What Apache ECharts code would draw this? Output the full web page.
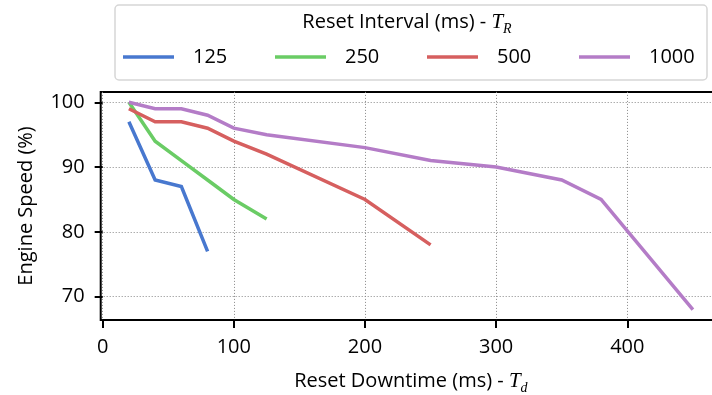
<!DOCTYPE html>
<html><head><meta charset="utf-8">
<script src="https://cdn.jsdelivr.net/npm/echarts@6/dist/echarts.min.js"></script>
<style>html,body{margin:0;padding:0;background:#fff}#c{width:712px;height:395px}</style>
</head><body><div id="c"></div>
<script>
const seriesNames = ['125', '250', '500', '1000'];
const x125 = [20, 40, 60, 80];
const y125 = [97, 88, 87, 77];
const x250 = [20, 40, 60, 80, 100, 125];
const y250 = [100, 94, 91, 88, 85, 82];
const x500 = [20, 40, 60, 80, 100, 125, 200, 250];
const y500 = [99, 97, 97, 96, 94, 92, 85, 78];
const x1000 = [20, 40, 60, 80, 100, 125, 200, 250, 300, 350, 380, 450];
const y1000 = [100, 99, 99, 98, 96, 95, 93, 91, 90, 88, 85, 68];
const xTicks = [0, 100, 200, 300, 400];
const yTicks = [70, 80, 90, 100];
const colors = ['#4878CF', '#6ACC65', '#D65F5F', '#B47CC7'];

const FONT = 'Open Sans';
const allX = [x125, x250, x500, x1000];
const allY = [y125, y250, y500, y1000];
const pair = (xs, ys) => xs.map((v, i) => [v, ys[i]]);

const legendLefts = [123, 275, 427, 579];
const legends = seriesNames.map((n, i) => ({
  data: [n], left: legendLefts[i], top: 45, padding: 0,
  icon: 'rect', itemWidth: 51, itemHeight: 3.5,
  textStyle: { fontFamily: FONT, fontSize: 20, color: '#000', padding: [0, 0, 0, 14], lineHeight: 24 }
}));

const serif = 'Liberation Serif';
const chart = echarts.init(document.getElementById('c'));
chart.setOption({
  animation: false,
  color: colors,
  title: {
    text: 'Reset Interval (ms) - {i|T}{s|R}',
    left: 407, top: 8, padding: 0, textAlign: 'center',
    textStyle: {
      fontFamily: FONT, fontSize: 20, fontWeight: 'normal', color: '#000', lineHeight: 28,
      rich: {
        i: { fontFamily: serif, fontStyle: 'italic', fontSize: 21, color: '#000', lineHeight: 28 },
        s: { fontFamily: serif, fontStyle: 'italic', fontSize: 14, color: '#000', verticalAlign: 'bottom', lineHeight: 16 }
      }
    }
  },
  legend: legends,
  graphic: [{
    type: 'rect', z: 0,
    shape: { x: 115, y: 5, width: 592, height: 75, r: 4 },
    style: { fill: '#fff', stroke: '#d6d6d6', lineWidth: 1.5 }
  }],
  grid: {
    left: 100.7, top: 91.9, width: 620.4, height: 228.1,
    outerBoundsMode: 'none', containLabel: false,
    show: true, borderColor: '#000', borderWidth: 2, backgroundColor: 'transparent'
  },
  xAxis: {
    type: 'value', min: -1.5, max: 471.5,
    name: 'Reset Downtime (ms) - {i|T}{s|d}',
    nameLocation: 'middle', nameGap: 47,
    nameTextStyle: {
      fontFamily: FONT, fontSize: 20, color: '#000', lineHeight: 28,
      rich: {
        i: { fontFamily: serif, fontStyle: 'italic', fontSize: 21, color: '#000', lineHeight: 28 },
        s: { fontFamily: serif, fontStyle: 'italic', fontSize: 14, color: '#000', verticalAlign: 'bottom', lineHeight: 16 }
      }
    },
    axisLine: { show: false },
    axisTick: { show: true, length: 8, lineStyle: { color: '#000', width: 2 }, customValues: xTicks },
    axisLabel: { fontFamily: FONT, fontSize: 20, color: '#000', margin: 17, customValues: xTicks },
    splitLine: { show: true, lineStyle: { color: '#888', width: 1, type: [1, 2] } }
  },
  yAxis: {
    type: 'value', min: 66.4, max: 101.6,
    name: 'Engine Speed (%)', nameLocation: 'middle', nameRotate: 90, nameGap: 64,
    nameTextStyle: { fontFamily: FONT, fontSize: 20, color: '#000' },
    axisLine: { show: false },
    axisTick: { show: true, length: 8, lineStyle: { color: '#000', width: 2 }, customValues: yTicks },
    axisLabel: { fontFamily: FONT, fontSize: 20, color: '#000', margin: 16, customValues: yTicks },
    splitLine: { show: true, lineStyle: { color: '#888', width: 1, type: [1, 2] } }
  },
  series: seriesNames.map((n, i) => ({
    name: n, type: 'line', data: pair(allX[i], allY[i]),
    showSymbol: false, symbol: 'none',
    lineStyle: { width: 3.5, color: colors[i], cap: 'butt', join: 'miter' },
    itemStyle: { color: colors[i] }
  }))
});
</script></body></html>
